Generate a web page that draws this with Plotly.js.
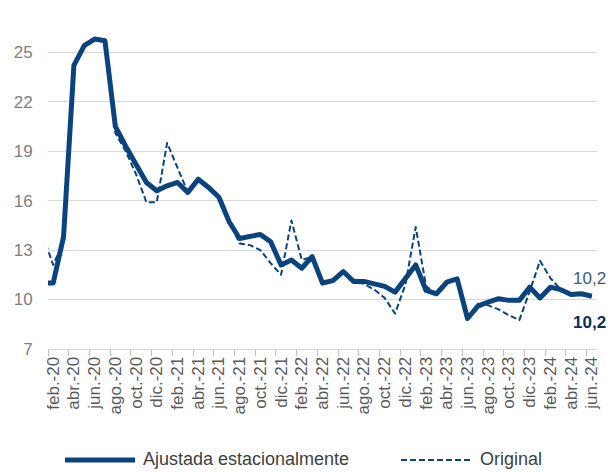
<!DOCTYPE html>
<html>
<head>
<meta charset="utf-8">
<script src="https://cdn.plot.ly/plotly-3.0.1.min.js"></script>
<style>
html,body{margin:0;padding:0;background:#fff;}
#chart{width:608px;height:472px;}
path.js-line{stroke-linejoin:round !important;}
</style>
</head>
<body>
<div id="chart"></div>
<script>
// Months (ene.-20 lies just left of the visible axis; the line enters from the edge)
const months = [
  "ene.-20","feb.-20","mar.-20","abr.-20","may.-20","jun.-20","jul.-20","ago.-20","sep.-20","oct.-20","nov.-20","dic.-20",
  "ene.-21","feb.-21","mar.-21","abr.-21","may.-21","jun.-21","jul.-21","ago.-21","sep.-21","oct.-21","nov.-21","dic.-21",
  "ene.-22","feb.-22","mar.-22","abr.-22","may.-22","jun.-22","jul.-22","ago.-22","sep.-22","oct.-22","nov.-22","dic.-22",
  "ene.-23","feb.-23","mar.-23","abr.-23","may.-23","jun.-23","jul.-23","ago.-23","sep.-23","oct.-23","nov.-23","dic.-23",
  "ene.-24","feb.-24","mar.-24","abr.-24","may.-24","jun.-24"
];

const ajustada = [
  11.0, 11.0, 13.8, 24.2, 25.4, 25.8, 25.7, 20.5, 19.3, 18.2, 17.1, 16.6,
  16.9, 17.1, 16.5, 17.3, 16.8, 16.2, 14.7, 13.7, 13.8, 13.95, 13.5, 12.1,
  12.4, 11.9, 12.6, 11.0, 11.15, 11.7, 11.1, 11.1, 10.95, 10.8, 10.45, 11.3,
  12.1, 10.55, 10.35, 11.05, 11.25, 8.85, 9.6, 9.85, 10.05, 9.95, 9.95, 10.75,
  10.1, 10.75, 10.6, 10.3, 10.35, 10.2
];

const original = [
  13.9, 12.1, 13.5, 24.2, 25.4, 25.8, 25.7, 20.1, 19.0, 17.6, 15.9, 15.9,
  19.5, 18.0, 16.5, 17.3, 16.8, 16.2, 14.7, 13.4, 13.3, 13.0, 12.2, 11.5,
  14.8, 12.4, 12.6, 11.0, 11.15, 11.7, 11.1, 10.95, 10.6, 10.1, 9.15, 10.9,
  14.4, 10.8, 10.35, 11.05, 11.25, 8.85, 9.75, 9.65, 9.4, 9.05, 8.75, 10.5,
  12.35, 11.3, 10.6, 10.3, 10.35, 10.2
];

const yTicks = [7, 10, 13, 16, 19, 22, 25];
const seriesNames = ["Ajustada estacionalmente", "Original"];
const lastLabelOriginal = "10,2";
const lastLabelAjustada = "10,2";

const NAVY = "#0B437F";
const FONT = "Liberation Sans, Arial, sans-serif";

// layout geometry (pixels)
const W = 608, H = 472;
const M = {l: 48, r: 11, t: 11, b: 123};
const plotW = W - M.l - M.r, plotH = H - M.t - M.b;
const px2x = p => (p - M.l) / plotW;
const py2y = p => (H - M.b - p) / plotH;

const traces = [
  {
    x: months, y: original, type: "scatter", mode: "lines", name: seriesNames[1],
    line: {color: NAVY, width: 2, dash: "6px,3px"}, hoverinfo: "skip", showlegend: false
  },
  {
    x: months, y: ajustada, type: "scatter", mode: "lines", name: seriesNames[0],
    line: {color: NAVY, width: 5}, hoverinfo: "skip", showlegend: false
  }
];

const lastX = months[months.length - 1];
const legY = 459;

const layout = {
  width: W, height: H,
  margin: M,
  paper_bgcolor: "#ffffff", plot_bgcolor: "#ffffff",
  showlegend: false,
  font: {family: FONT, color: "#595959"},
  xaxis: {
    type: "category",
    categoryorder: "array", categoryarray: months,
    range: [0.5, months.length - 0.5],
    tickmode: "linear", tick0: 1, dtick: 2,
    tickson: "boundaries",
    ticks: "outside", ticklen: 6, tickwidth: 1, tickcolor: "#BFBFBF",
    showline: true, linecolor: "#D9D9D9", linewidth: 1,
    showgrid: false, zeroline: false,
    tickangle: -90,
    tickfont: {family: FONT, size: 17, color: "#595959"},
    fixedrange: true
  },
  yaxis: {
    range: [7, 27.5],
    tickmode: "array", tickvals: yTicks, ticktext: yTicks.map(String),
    showgrid: true, gridcolor: "#D9D9D9", gridwidth: 1,
    zeroline: false, showline: false,
    ticks: "outside", ticklen: 11, tickcolor: "rgba(0,0,0,0)",
    tickfont: {family: FONT, size: 17, color: "#808080"},
    fixedrange: true
  },
  annotations: [
    {x: lastX, y: original[original.length - 1], xref: "x", yref: "y",
     text: lastLabelOriginal, showarrow: false, xshift: -2, yshift: 18,
     font: {family: FONT, size: 17, color: "#3E5A82"}},
    {x: lastX, y: ajustada[ajustada.length - 1], xref: "x", yref: "y",
     text: "<b>" + lastLabelAjustada + "</b>", showarrow: false, xshift: -2, yshift: -26,
     font: {family: FONT, size: 17, color: "#0D2D5E"}},
    {x: px2x(141), y: py2y(legY), xref: "paper", yref: "paper", xanchor: "left", yanchor: "middle",
     text: seriesNames[0], showarrow: false, font: {family: FONT, size: 18, color: "#404040"}},
    {x: px2x(478), y: py2y(legY), xref: "paper", yref: "paper", xanchor: "left", yanchor: "middle",
     text: seriesNames[1], showarrow: false, font: {family: FONT, size: 18, color: "#404040"}}
  ],
  shapes: [
    {type: "line", xref: "paper", yref: "paper", x0: px2x(65), x1: px2x(135), y0: py2y(legY + 1), y1: py2y(legY + 1),
     line: {color: NAVY, width: 5}},
    {type: "line", xref: "paper", yref: "paper", x0: px2x(401), x1: px2x(471), y0: py2y(legY + 1), y1: py2y(legY + 1),
     line: {color: NAVY, width: 2, dash: "6px,3px"}}
  ]
};

Plotly.newPlot("chart", traces, layout, {displayModeBar: false, staticPlot: true});
</script>
</body>
</html>
